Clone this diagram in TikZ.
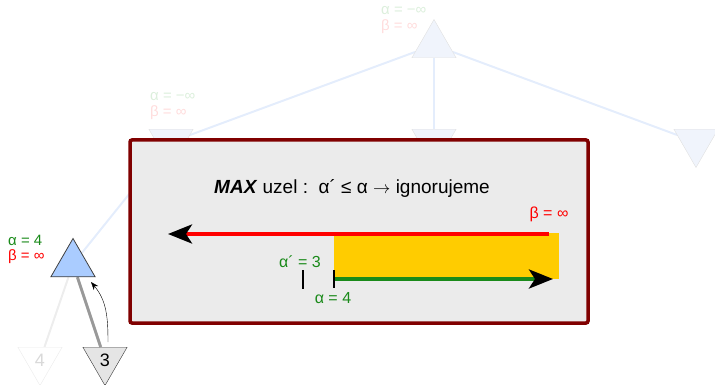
\documentclass[tikz,border=0pt]{standalone}
\usepackage{fontspec}
\setmainfont{Liberation Sans}
\usetikzlibrary{shapes.geometric,arrows.meta,backgrounds,positioning}
\definecolor{fadegreen}{HTML}{DCEFDC}
\definecolor{fadered}{HTML}{FFDCDC}
\definecolor{fadeblue}{HTML}{F0F4FC}
\definecolor{edgeblue}{HTML}{E4EDFC}
\definecolor{nodeblue}{HTML}{AACCFF}
\definecolor{alphagreen}{HTML}{1A8A1A}
\definecolor{boxred}{HTML}{800000}
\definecolor{boxgray}{HTML}{EBEBEB}
\definecolor{bargold}{HTML}{FFCC00}
\tikzset{
    maxnode/.style={regular polygon, regular polygon sides=3, minimum size=51pt, inner sep=0pt, draw=black!12, fill=fadeblue},
    minnode/.style={maxnode, shape border rotate=180},
    treeedge/.style={draw=edgeblue, line width=2pt},
    lbl/.style={font=\fontsize{15}{17}\selectfont, inner sep=0pt, anchor=west},
    boxlbl/.style={font=\fontsize{16}{18}\selectfont, inner sep=0pt},
    infobox/.style={draw=boxred, line width=3.5pt, fill=boxgray, rounded corners=2pt, minimum width=458pt, minimum height=183pt},
    bigtip/.style={-{Stealth[length=24pt, width=19pt, inset=6pt, black]}},
    tick/.style={draw=black, line width=2pt}
}
\begin{document}
\begin{tikzpicture}[x=1pt, y=-1pt]
    \useasboundingbox (0,0) rectangle (715,385);
    % Nodes
    \node[maxnode] (root) at (434,45) {};
    \node[minnode] (L) at (171,142) {};
    \node[minnode] (M) at (434,142) {};
    \node[minnode] (R) at (696,142) {};
    \node[maxnode, fill=nodeblue, draw=black!75, thick] (B) at (73,264) {};
    \node[minnode, fill=white, draw=black!8, text=black!15, font=\fontsize{18}{20}\selectfont] (C4) at (40,360) {4};
    \node[minnode, fill=black!10, draw=black!80, font=\fontsize{18}{20}\selectfont] (C3) at (105,360) {3};

    % labels
    \node[lbl, text=fadegreen] at (381,11) {α = −∞};
    \node[lbl, text=fadered] at (381,27) {β = ∞};
    \node[lbl, text=fadegreen] at (150,97) {α = −∞};
    \node[lbl, text=fadered] at (150,113) {β = ∞};
    \node[lbl, text=alphagreen] at (8,240.5) {α = 4};
    \node[lbl, text=red] at (8,257) {β = ∞};

    % edges
    \begin{scope}[on background layer]
        \draw[treeedge] (root) -- (L);
        \draw[treeedge] (root) -- (M);
        \draw[treeedge] (root) -- (R);
        \draw[treeedge] (L) -- (B);
        \draw[draw=black!7, line width=2pt] (B) -- (C4);
        \draw[draw=black!40, line width=3pt] (B) -- (C3);
    \end{scope}
    \coordinate (from3) at (108,342);
    \coordinate (to3) at (91,282);
    \draw[-{Stealth[length=8pt, width=6pt]}, thin] (from3) to[out=90, in=-50] (to3);

    % info box
    \node[infobox] (info) at (359,231.5) {};
    \node[font=\fontsize{19}{22}\selectfont] (rule) at (352,188) {\textbf{\textit{MAX}} uzel :\ \ α´ ≤ α $\rightarrow$ ignorujeme};
    \coordinate (ylo) at (334,233);
    \coordinate (yhi) at (559,279);
    \fill[bargold] (ylo) rectangle (yhi);
    \coordinate (betaend) at (549,234);
    \coordinate (betatip) at (168,234);
    \draw[red, line width=4pt, bigtip] (betaend) -- (betatip);
    \coordinate (alphastart) at (334,279);
    \coordinate (alphatip) at (553,279);
    \draw[alphagreen, line width=4pt, bigtip] (alphastart) -- (alphatip);
    \coordinate (t1a) at (334,270);
    \coordinate (t1b) at (334,288);
    \coordinate (t2a) at (303,270);
    \coordinate (t2b) at (303,289);
    \draw[tick] (t1a) -- (t1b);
    \draw[tick] (t2a) -- (t2b);
    \node[boxlbl, text=red] (betalbl) at (549,214) {β = ∞};
    \node[boxlbl, text=alphagreen] (alpha3) at (300,262) {α´ = 3};
    \node[boxlbl, text=alphagreen] (alpha4) at (333,298) {α = 4};
\end{tikzpicture}
\end{document}
